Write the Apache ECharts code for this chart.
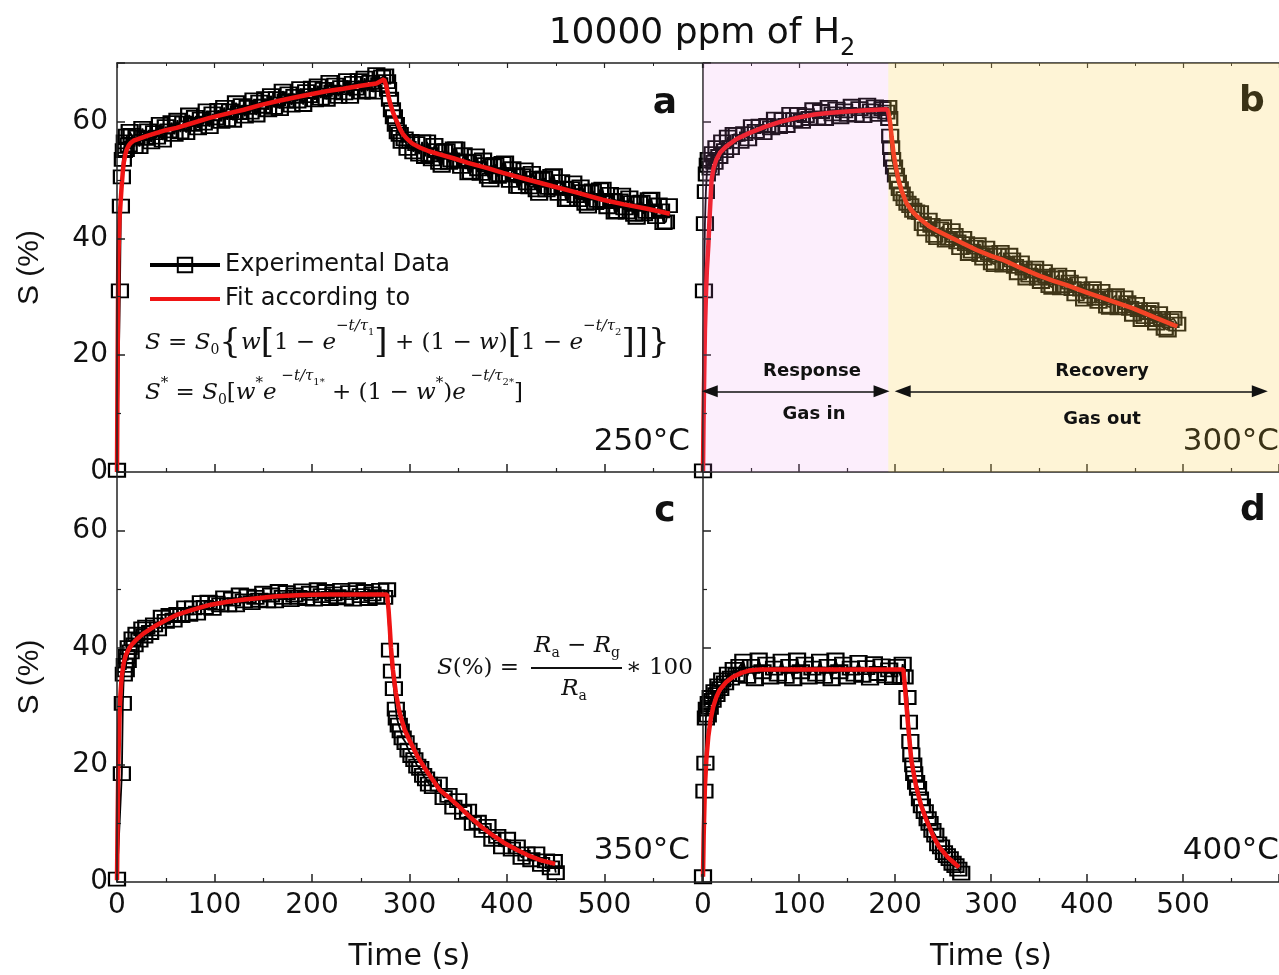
<!DOCTYPE html>
<html>
<head>
<meta charset="utf-8">
<script src="https://cdn.jsdelivr.net/npm/echarts@6/dist/echarts.min.js"></script>
<style>
  html, body { margin: 0; padding: 0; background: #fff; }
  #main { width: 1279px; height: 975px; }
</style>
</head>
<body>
<div id="main"></div>
<script>
// ---- data: [time (s), S (%)] ----
var expA = [
  [0,0.3],[3,31],[4,45.5],[5,50.5],[6,53.5],[7,55],[8,56.5],[9,55.2],[10,57.5],[12,56],[13,58.3],
  [15,57.6],[18,55.7],[20,57.3],[23,55.7],[26,58.8],[29,57.1],[32,58.4],[35,56.5],[38,58.1],[41,57.3],
  [44,59.5],[47,56.8],[50,59.1],[53,58.4],[56,59.8],[59,57.8],[62,60.2],[65,58.2],[68,59.7],[71,58.1],
  [74,61.1],[77,59.5],[80,60.7],[83,58.9],[86,60.4],[89,59.7],[92,61.8],[95,59.1],[98,61.3],[101,60.6],
  [104,61.9],[107,60.0],[110,62.4],[113,60.3],[116,61.8],[119,60.2],[122,63.2],[125,61.5],[128,62.7],[131,60.9],
  [134,62.4],[137,61.6],[140,63.7],[143,61.1],[146,63.3],[149,62.6],[152,63.9],[155,62.0],[158,64.4],[161,62.4],
  [164,63.9],[167,62.2],[170,65.2],[173,63.5],[176,64.7],[179,62.8],[182,64.3],[185,63.5],[188,65.6],[191,62.9],
  [194,65.1],[197,64.4],[200,65.7],[203,63.7],[206,66.1],[209,64.0],[212,65.5],[215,63.8],[218,66.7],[221,65.0],
  [224,66.2],[227,64.3],[230,65.8],[233,64.9],[236,67.0],[239,64.3],[242,66.5],[245,65.7],[248,67.0],[251,65.0],
  [254,67.4],[257,65.2],[260,66.7],[263,65.0],[266,68.0],[269,66.3],[272,67.6],[275,67.8],[277,66.8],
  [278,65.5],[280,63.8],[282,62.0],[284,60.8],[286,59.5],[288,58.2],[290,57.8],[292,56.6],[295,57.0],[298,55.4],
  [301,56.6],[304,54.8],[307,56.2],[310,54.4],[313,56.5],[316,54.0],
  [318,56.5],[320.5,54.3],[323,53.6],[325.5,55.9],[328,55.0],[330.5,53.0],[333,52.5],[335.5,54.9],[338,55.0],[340.5,53.0],
  [343,53.4],[345.5,55.3],[348,55.3],[350.5,53.2],[353,52.3],[355.5,54.3],[358,53.2],[360.5,51.2],[363,51.3],[365.5,53.1],
  [368,54.1],[370.5,51.9],[373,51.1],[375.5,53.4],[378,52.6],[380.5,50.6],[383,50.0],[385.5,52.4],[388,52.6],[390.5,50.6],
  [393,50.9],[395.5,52.8],[398,52.9],[400.5,50.8],[403,49.9],[405.5,51.9],[408,50.9],[410.5,48.9],[413,48.9],[415.5,50.7],
  [418,51.7],[420.5,49.5],[423,48.8],[425.5,51.1],[428,50.3],[430.5,48.3],[433,47.7],[435.5,50.1],[438,50.3],[440.5,48.3],
  [443,48.7],[445.5,50.6],[448,50.7],[450.5,48.6],[453,47.7],[455.5,49.7],[458,48.6],[460.5,46.6],[463,46.7],[465.5,48.5],
  [468,49.5],[470.5,47.3],[473,46.6],[475.5,48.8],[478,48.0],[480.5,46.0],[483,45.5],[485.5,47.9],[488,48.1],[490.5,46.1],
  [493,46.5],[495.5,48.3],[498,48.4],[500.5,46.3],[503,45.4],[505.5,47.5],[508,46.5],[510.5,44.5],[513,44.6],[515.5,46.4],
  [518,47.4],[520.5,45.2],[523,44.5],[525.5,46.9],[528,46.1],[530.5,44.1],[533,43.6],[535.5,46.0],[538,46.2],[540.5,44.2],
  [543,44.6],[545.5,46.6],[548,46.7],[550.5,44.6],[553,43.7],[555.5,45.7],[558,44.7],[560.5,42.7],[563,42.8],[566,45.6]
];
var fitA = [
  [0,0],[0.5,15],[1.3,36],[2.5,43],[4,47],[4.8,49],[6,51.5],[7,53],[8.5,54.3],[10,55.2],[12,55.9],[14,56.3],
  [17,56.7],[20,56.9],[30,57.5],[40,58],[50,58.5],[61,58.9],[75,59.6],[95,60.6],[112,61.3],[130,62],[147,62.8],
  [165,63.5],[182,64.1],[200,64.7],[216,65.2],[232,65.6],[250,66.1],[266,66.5],[274,67.2],[276,66.2],[278,64.6],
  [280,63.2],[283,61.6],[286.5,60.2],[290,58.8],[293,57.9],[297,57.1],[303,56.2],[311,55.5],[320,54.9],[330,54.4],
  [345,53.7],[360,52.9],[380,52.0],[396,51.2],[420,50.1],[447,48.9],[470,47.9],[498,46.6],[520,45.8],[545,45.0],[567,44.2]
];
var expB = [
  [0,0.2],[1,31],[2,42.5],[3,48],[4,51],[5,52.5],[6,53.5],[8,52],[10,54.5],[12,53],[14,55.5],[17,54],[20,56.5],
  [23,55],[26,57.3],[29,55.5],[32,57.8],
  [35,57.8],[39,56.6],[43,57.9],[47,57.0],[51,59.1],[55,58.3],[59,59.2],[63,58.1],[67,59.3],[71,58.9],
  [75,60.4],[79,59.1],[83,60.3],[87,59.3],[91,61.2],[95,60.3],[99,61.2],[103,60.0],[107,61.0],[111,60.5],
  [115,62.0],[119,60.6],[123,61.7],[127,60.5],[131,62.4],[135,61.3],[139,62.1],[143,60.8],[147,61.8],[151,61.2],
  [155,62.6],[159,61.1],[163,62.2],[167,61.0],[171,62.8],[175,61.8],[179,62.5],[183,61.2],[187,62.2],[191,61.6],
  [193,62.4],[194,60.5],[195,57.5],[196,55.5],[197,53.5],[199,52.2],[201,50.8],[203,49.6],[205,48.5],[207,47.6],
  [210,46.8],[213,46.0],[216,45.6],[219,44.8],[222,44.5],
  [226,44.4],[229,42.5],[232,41.6],[235,43.1],[238,42.2],[241,40.5],[244,40.1],[247,41.6],[250,42.0],[253,39.7],
  [256,40.0],[259,41.3],[262,40.5],[265,39.4],[268,38.4],[271,40.0],[274,39.1],[277,37.4],[280,37.8],[283,38.5],
  [286,38.9],[289,37.2],[292,36.6],[295,38.3],[298,37.5],[301,35.8],[304,35.5],[307,37.1],[310,37.6],[313,35.4],
  [316,35.7],[319,37.1],[322,36.3],[325,35.2],[328,34.1],[331,35.8],[334,34.9],[337,33.2],[340,33.7],[343,34.4],
  [346,34.9],[349,33.2],[352,32.6],[355,34.3],[358,33.5],[361,31.9],[364,31.6],[367,33.2],[370,33.7],[373,31.5],
  [376,31.9],[379,33.3],[382,32.5],[385,31.4],[388,30.5],[391,32.2],[394,31.3],[397,29.6],[400,30.1],[403,30.9],
  [406,31.4],[409,29.7],[412,29.2],[415,30.9],[418,30.1],[421,28.4],[424,28.2],[427,29.8],[430,30.2],[433,28.1],
  [436,28.4],[439,29.8],[442,29.0],[445,28.0],[448,27.0],[451,28.7],[454,27.8],[457,26.1],[460,26.6],[463,27.3],
  [466,27.8],[469,26.1],[472,25.5],[475,27.1],[478,26.3],[481,24.6],[484,24.3],[487,25.9],[490,26.3],[494,25.3]
];
var fitB = [
  [0,0],[0.5,8],[1,14],[2,24.3],[3,30],[4,34.5],[5.5,38.6],[7,44],[8.9,50],[11,52],[14,53.5],[18,54.7],[24,55.7],
  [35,57],[48,58],[65,59.1],[82,60],[100,60.7],[116,61.2],[133,61.5],[150,61.7],[170,61.9],[191.6,62.1],[193,61.6],
  [195,59.7],[196.5,57.4],[198.4,54.6],[201,52.1],[203.6,50],[207,48.1],[212,46],[218,44.6],[224,43.6],[230,42.8],
  [236,42],[245,41.2],[255,40.4],[270,39.2],[285,38],[300,37],[311,36.4],[330,35],[350,33.6],[365,32.7],[379,32],
  [400,30.7],[420,29.6],[448,28],[470,26.5],[494,24.9]
];
var expC = [
  [0,0.5],[5,18.5],[6,30.5],[7,35.5],[8,37],[9,36.2],[10,38.5],[11,37.8],[12,40],[14,39.3],[16,41.5],[18,40.5],
  [20,42.3],[23,41.3],[26,43.2],[28,42.0],
  [30,43.5],[34,42.6],[38,43.9],[42,43.2],[46,45.2],[50,44.5],[54,45.5],[58,44.7],[62,45.7],[66,45.5],
  [70,46.8],[74,45.7],[78,46.8],[82,45.9],[86,47.7],[90,46.9],[94,47.8],[98,46.7],[102,47.6],[106,47.3],
  [110,48.5],[114,47.3],[118,48.3],[122,47.3],[126,49.0],[130,48.0],[134,48.8],[138,47.7],[142,48.6],[146,48.1],
  [150,49.3],[154,48.0],[158,49.0],[162,48.0],[166,49.6],[170,48.6],[174,49.4],[178,48.2],[182,49.0],[186,48.6],
  [190,49.7],[194,48.4],[198,49.3],[202,48.3],[206,49.9],[210,48.9],[214,49.6],[218,48.4],[222,49.2],[226,48.7],
  [230,49.8],[234,48.5],[238,49.4],[242,48.3],[246,49.9],[250,48.9],[254,49.6],[258,48.4],[262,49.2],[266,48.7],
  [270,49.8],[274,48.6],[277,49.9],
  [280,39.6],[282,36.0],[284,33.0],[286,29.5],[287,28.0],[289,26.8],[291,25.8],[293,24.6],[296,23.8],[299,22.5],
  [302,21.6],[305,20.9],[308,19.8],[311,19.4],[314,18.2],[317,17.6],[320,16.7],[324,16.3],
  [330,16.7],[335,14.4],[340,14.8],[345,12.8],[350,13.9],[355,11.9],[360,12.1],[365,10.0],[370,10.2],[375,8.8],
  [380,9.5],[385,7.3],[390,7.8],[395,6.0],[400,7.3],[405,5.6],[410,6.0],[415,4.2],[420,4.8],[425,3.8],
  [430,4.8],[435,3.0],[440,3.6],[445,2.4],[448,3.5],[450,1.6]
];
var fitC = [
  [0,0.3],[0.5,8],[1.4,20.8],[2.5,28],[3.5,32],[4.8,35],[7,37.5],[9,38.7],[11.6,39.6],[15,40.5],[20,41.4],[27,42.4],
  [40,43.8],[50,44.7],[61,45.6],[78,46.5],[95,47.3],[112,47.8],[129,48.2],[146,48.5],[164,48.8],[190,49.0],[215,49.1],
  [245,49.1],[277,49.1],[278.5,46.5],[279.7,43.6],[281,40],[283,36.2],[286,32.3],[290,28.8],[295,26],[300,24.2],
  [308,21.5],[317,19.1],[331,15.7],[342,14.2],[350.6,12.9],[362,11.1],[374,9.4],[386,7.9],[397.7,6.6],[410,5.5],
  [421,4.6],[435,3.7],[449.4,3.1]
];
var expD = [
  [0,0.9],[1.5,15.5],[2.5,20.3],[3,28],[4,29.5],[5,28.5],[6,30.5],[7,29.8],[8,31.5],[10,31],[12,32.5],[14,32],
  [16,33.5],[18,33],[20,34.5],[23,34],[26,35.5],[29,34.8],[32,36.3],[35,35.4],[38,36.8],
  [42,37.7],[46,35.1],[50,36.8],[54,34.7],[58,37.9],[62,35.9],[66,37.2],[70,35.0],[74,36.5],[78,35.5],
  [82,37.7],[86,35.1],[90,36.8],[94,34.7],[98,37.9],[102,35.9],[106,37.2],[110,35.0],[114,36.5],[118,35.5],
  [122,37.7],[126,35.1],[130,36.8],[134,34.7],[138,37.9],[142,35.9],[146,37.2],[150,35.0],[154,36.5],[158,35.5],
  [162,37.5],[166,35.3],[170,36.6],[174,34.8],[178,37.3],[182,35.6],[186,36.9],[190,35.2],[194,36.2],[198,34.9],
  [202,36.8],[206,35.1],[208,37.2],[210,35.0],
  [213,31.5],[214.5,27.3],[216,24.0],[217,21.7],[219,20.0],[220,18.5],[222,17.0],[224,16.0],[226,14.2],[228,13.0],
  [231,12.0],[234,10.8],[236,10.0],[239,8.8],[242,8.0],[245,6.5],[248,6.0],[251,5.0],[254,4.5],[257,4.0],
  [260,3.2],[263,2.8],[266,2.2],[269,1.5]
];
var fitD = [
  [0,0.9],[0.7,8],[2,16.3],[3.5,21],[5.5,24.8],[8,27.8],[10.6,29.9],[14,31.6],[17.4,32.8],[24,34.1],[31,35],
  [40,35.7],[48,36.1],[60,36.3],[100,36.3],[150,36.3],[208.7,36.3],[210.4,33.3],[212,30],[213.8,26.5],[217,20.8],
  [222,16.3],[227,13.2],[232.6,10.6],[240,7.8],[246,6],[255,4.2],[262,3.2],[266.7,2.5]
];
var panelLetters = ['a', 'b', 'c', 'd'];
var temps = ['250°C', '300°C', '350°C', '400°C'];
var gasInEnd = 193;      // end of gas-in period in panel b
var arrowLevel = 13.8;   // S value where the response/recovery arrows sit

var expData = [expA, expB, expC, expD];
var fitData = [fitA, fitB, fitC, fitD];

var chart = echarts.init(document.getElementById('main'));

var ink = '#111';
var grids = [
  { left: 117, top: 63, width: 585, height: 409 },
  { left: 703, top: 63, width: 585, height: 409 },
  { left: 117, top: 472, width: 585, height: 410 },
  { left: 703, top: 472, width: 585, height: 410 }
];

var xAxes = [], yAxes = [], series = [];
grids.forEach(function (g, i) {
  var bottomRow = i >= 2, leftCol = i % 2 === 0;
  xAxes.push({
    type: 'value', gridIndex: i, min: 0, max: 600, interval: 100, z: 5,
    axisLine: { show: true, onZero: false, lineStyle: { color: '#222', width: 1.5 } },
    axisTick: { inside: true, length: 8, lineStyle: { color: '#222', width: 1.5 } },
    minorTick: { show: true, splitNumber: 2, length: 4, lineStyle: { color: '#222', width: 1.2 } },
    splitLine: { show: false },
    axisLabel: { show: bottomRow, showMaxLabel: false, fontSize: 28, fontFamily: 'DejaVu Sans', color: ink, margin: 10 },
    name: bottomRow ? 'Time (s)' : '', nameLocation: 'middle', nameGap: 60,
    nameTextStyle: { fontSize: 30, fontFamily: 'DejaVu Sans', color: ink }
  });
  yAxes.push({
    type: 'value', gridIndex: i, min: 0, max: 70, interval: 20, z: 5,
    axisLine: { show: true, onZero: false, lineStyle: { color: '#222', width: 1.5 } },
    axisTick: { inside: true, length: 8, lineStyle: { color: '#222', width: 1.5 } },
    minorTick: { show: true, splitNumber: 2, length: 4, lineStyle: { color: '#222', width: 1.2 } },
    splitLine: { show: false },
    axisLabel: { show: leftCol, showMaxLabel: false, fontSize: 28, fontFamily: 'DejaVu Sans', color: ink, margin: 9 },
    name: leftCol ? 'S (%)' : '', nameLocation: 'middle', nameGap: 72,
    nameTextStyle: { fontSize: 30, fontFamily: 'Liberation Sans', color: ink }
  });
  series.push({
    type: 'line', name: 'Experimental Data', xAxisIndex: i, yAxisIndex: i,
    data: expData[i], symbol: 'rect', symbolSize: [16, 13], showAllSymbol: true, clip: false,
    lineStyle: { color: '#000', width: 1.8 },
    itemStyle: { color: 'rgba(0,0,0,0)', borderColor: '#000', borderWidth: 2 },
    z: 2, animation: false
  });
  series.push({
    type: 'line', name: 'Fit according to', xAxisIndex: i, yAxisIndex: i,
    data: fitData[i], symbol: 'none', showSymbol: false, clip: false,
    lineStyle: { color: '#f01414', width: 4.5 }, itemStyle: { color: '#f01414' },
    z: 3, animation: false
  });
});

// top frame with ticks for the upper panels
[0, 1].forEach(function (i) {
  xAxes.push({
    type: 'value', gridIndex: i, position: 'top', min: 0, max: 600, interval: 100, z: 5,
    axisLine: { show: true, onZero: false, lineStyle: { color: '#222', width: 1.5 } },
    axisTick: { inside: true, length: 5, lineStyle: { color: '#222', width: 1.2 } },
    minorTick: { show: true, splitNumber: 2, length: 3, lineStyle: { color: '#222', width: 1 } },
    splitLine: { show: false }, axisLabel: { show: false }
  });
});

// shaded gas-in / gas-out regions and arrows in panel b
series.push({
  type: 'line', xAxisIndex: 1, yAxisIndex: 1, data: [], silent: true, animation: false,
  markArea: {
    silent: true, z: 10,
    data: [
      [{ xAxis: 0, yAxis: 0, itemStyle: { color: 'rgba(235,141,235,0.15)' } }, { xAxis: gasInEnd, yAxis: 70 }],
      [{ xAxis: gasInEnd, yAxis: 0, itemStyle: { color: 'rgba(250,212,90,0.25)' } }, { xAxis: 600, yAxis: 70 }]
    ]
  },
  markLine: {
    silent: true, z: 12, symbol: ['triangle', 'triangle'], symbolSize: [12, 16],
    lineStyle: { color: '#111', width: 1.5, type: 'solid' }, label: { show: false },
    data: [
      [{ coord: [7, arrowLevel] }, { coord: [186, arrowLevel] }],
      [{ coord: [208, arrowLevel] }, { coord: [580, arrowLevel] }]
    ]
  }
});

var serif = 'DejaVu Serif';
var richEq = {
  m: { fontFamily: serif, fontStyle: 'italic', fontSize: 23, lineHeight: 50, fill: ink },
  n: { fontFamily: serif, fontSize: 23, lineHeight: 50, fill: ink },
  sub: { fontFamily: serif, fontSize: 14, lineHeight: 50, verticalAlign: 'bottom', padding: [0, 0, 11, 0], fill: ink },
  br: { fontFamily: serif, fontSize: 34, lineHeight: 50, fill: ink },
  sup: { fontFamily: serif, fontStyle: 'italic', fontSize: 15, lineHeight: 50, verticalAlign: 'top', padding: [1, 0, 0, 0], fill: ink },
  st: { fontFamily: serif, fontSize: 15, lineHeight: 50, verticalAlign: 'top', padding: [8, 0, 0, 0], fill: ink },
  ss: { fontFamily: serif, fontSize: 10, lineHeight: 50, verticalAlign: 'top', padding: [9, 0, 0, 0], fill: ink }
};

var eq1 = '{m|S}{n| = }{m|S}{sub|0}{br|{}{m|w}{br|[}{n|1 − }{m|e}{sup|−t/τ}{ss|1}{br|]}' +
  '{n| + (1 − }{m|w}{n|)}{br|[}{n|1 − }{m|e}{sup|−t/τ}{ss|2}{br|]]}}';
var eq2 = '{m|S}{st|*}{n| = }{m|S}{sub|0}{n|[}{m|w}{st|*}{m|e}{sup| −t/τ}{ss|1}{ss|*}' +
  '{n| + (1 − }{m|w}{st|*}{n|)}{m|e}{sup| −t/τ}{ss|2}{ss|*}{n|]}';

function txt(x, y, text, font, align, fill) {
  return { type: 'text', x: x, y: y, z: 100, silent: true,
    style: { text: text, font: font, align: align || 'center', verticalAlign: 'middle', fill: fill || ink } };
}

var graphics = [
  { type: 'text', x: 702, y: 34, z: 100, silent: true,
    style: { text: '10000 ppm of H{s|2}', fontFamily: 'DejaVu Sans', fontSize: 36, fill: ink,
      align: 'center', verticalAlign: 'middle',
      rich: { s: { fontFamily: 'DejaVu Sans', fontSize: 24, lineHeight: 54, verticalAlign: 'bottom', fill: ink } } } },
  txt(665, 104, panelLetters[0], 'bold 36px DejaVu Sans'),
  txt(1252, 102, panelLetters[1], 'bold 36px DejaVu Sans', 'center', '#3a3216'),
  txt(665, 512, panelLetters[2], 'bold 36px DejaVu Sans'),
  txt(1253, 511, panelLetters[3], 'bold 36px DejaVu Sans'),
  txt(690, 442, temps[0], '31px DejaVu Sans', 'right'),
  txt(1279, 442, temps[1], '31px DejaVu Sans', 'right', '#3a3216'),
  txt(690, 851, temps[2], '31px DejaVu Sans', 'right'),
  txt(1279, 851, temps[3], '31px DejaVu Sans', 'right'),
  txt(812, 371, 'Response', 'bold 18px DejaVu Sans'),
  txt(814, 414, 'Gas in', 'bold 18px DejaVu Sans'),
  txt(1102, 371, 'Recovery', 'bold 18px DejaVu Sans'),
  txt(1102, 419, 'Gas out', 'bold 18px DejaVu Sans'),
  { type: 'text', x: 145, y: 343, z: 100, silent: true,
    style: { text: eq1, fontFamily: serif, fontSize: 34, lineHeight: 50, fill: ink, align: 'left', verticalAlign: 'middle', rich: richEq } },
  { type: 'text', x: 145, y: 393, z: 100, silent: true,
    style: { text: eq2, fontFamily: serif, fontSize: 23, lineHeight: 50, fill: ink, align: 'left', verticalAlign: 'middle', rich: richEq } },
  // S(%) definition in panel c
  { type: 'text', x: 437, y: 668, z: 100, silent: true,
    style: { text: '{m|S}{n|(%) =}', lineHeight: 50, align: 'left', verticalAlign: 'middle', rich: richEq } },
  { type: 'text', x: 577, y: 646, z: 100, silent: true,
    style: { text: '{m|R}{sub|a}{n| − }{m|R}{sub|g}', lineHeight: 50, align: 'center', verticalAlign: 'middle', rich: richEq } },
  { type: 'line', z: 100, silent: true, shape: { x1: 531, y1: 668, x2: 622, y2: 668 }, style: { stroke: ink, lineWidth: 2 } },
  { type: 'text', x: 574, y: 689, z: 100, silent: true,
    style: { text: '{m|R}{sub|a}', lineHeight: 50, align: 'center', verticalAlign: 'middle', rich: richEq } },
  { type: 'text', x: 626, y: 668, z: 100, silent: true,
    style: { text: '{n|∗ 100}', lineHeight: 50, align: 'left', verticalAlign: 'middle', rich: richEq } }
];

chart.setOption({
  animation: false,
  backgroundColor: '#fff',
  grid: grids,
  xAxis: xAxes,
  yAxis: yAxes,
  legend: {
    left: 143, top: 248, orient: 'vertical', itemWidth: 70, itemHeight: 18, itemGap: 10,
    selectedMode: false,
    textStyle: { fontSize: 24, fontFamily: 'DejaVu Sans', color: ink },
    data: [
      { name: 'Experimental Data', lineStyle: { width: 4 } },
      { name: 'Fit according to', lineStyle: { width: 4 }, itemStyle: { opacity: 0 } }
    ]
  },
  series: series,
  graphic: graphics
});
</script>
</body>
</html>
